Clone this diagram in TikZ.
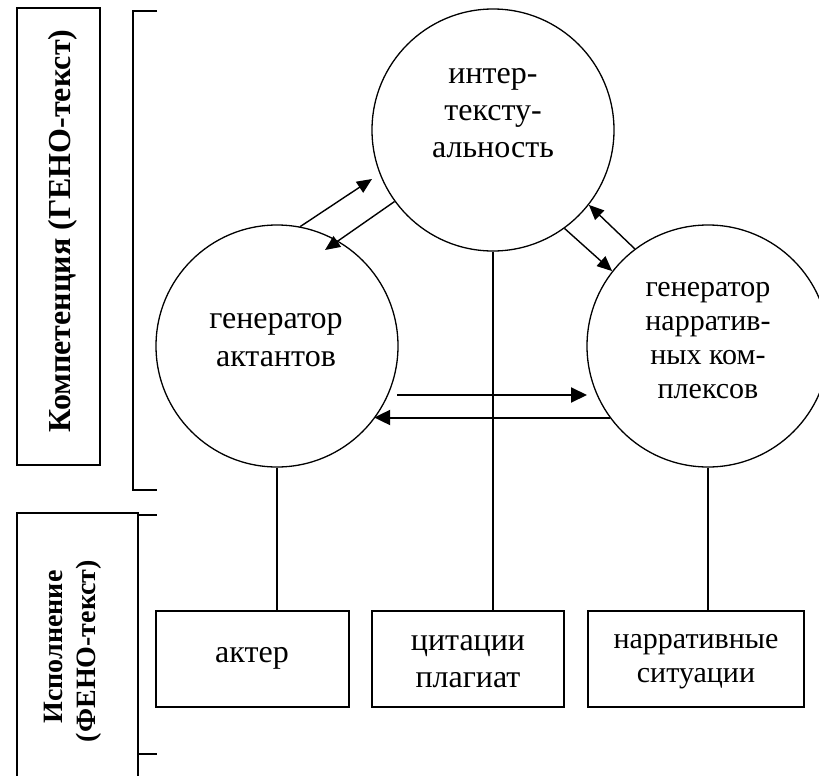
\documentclass[tikz,border=0pt]{standalone}
\usepackage{fontspec}
\setmainfont{Liberation Serif}
\usetikzlibrary{arrows.meta}
\begin{document}
\begin{tikzpicture}[x=1pt,y=-1pt,
  circ/.style={circle,draw,line width=1.3pt,minimum size=242pt,inner sep=0pt},
  boxn/.style={draw,line width=1.6pt,minimum height=96pt,inner sep=0pt},
  txt/.style={anchor=base,inner sep=0pt,font=\fontsize{32}{37}\selectfont},
  txts/.style={anchor=base,inner sep=0pt,font=\fontsize{30}{34}\selectfont},
  lbl/.style={anchor=base,inner sep=0pt,rotate=90,font=\bfseries\fontsize{32}{37}\selectfont},
  lbls/.style={anchor=base,inner sep=0pt,rotate=90,font=\bfseries\fontsize{28}{33}\selectfont},
  frame/.style={line width=1.4pt},
  link/.style={line width=1.3pt},
  darr/.style={line width=1.4pt,-{Triangle[length=15pt,width=13pt]}},
  harr/.style={line width=2pt,-{Triangle[length=16pt,width=15pt]}}]
\useasboundingbox (0,0) rectangle (819,776);

% circles
\node[circ] (T) at (493,130) {};
\node[circ] (L) at (277,346) {};
\node[circ] (R) at (708,346) {};

% boxes
\node[boxn,minimum width=193pt] (B1) at (252.5,659) {};
\node[boxn,minimum width=192pt] (B2) at (468,659) {};
\node[boxn,minimum width=216pt] (B3) at (696,659) {};

% texts
\node[txt] (t1) at (493,83) {интер-};
\node[txt] (t2) at (493,120) {тексту-};
\node[txt] (t3) at (493,157) {альность};
\node[txt] (l1) at (276,328) {генератор};
\node[txt] (l2) at (276,366) {актантов};
\node[txts] (r1) at (708,296) {генератор};
\node[txts] (r2) at (708,330) {нарратив-};
\node[txts] (r3) at (708,364) {ных ком-};
\node[txts] (r4) at (708,398) {плексов};
\node[txt] (b1) at (252,662) {актер};
\node[txt] (b2a) at (468,650) {цитации};
\node[txt] (b2b) at (468,687) {плагиат};
\node[txts] (b3a) at (696,648) {нарративные};
\node[txts] (b3b) at (696,682) {ситуации};

% side labels
\node[draw,frame,minimum width=83pt,minimum height=457pt,inner sep=0pt] (CB) at (58.5,236.5) {};
\node[lbl] (comp) at (70,231) {Компетенция (ГЕНО-текст)};
\node[lbls] (isp1) at (62,647) {Исполнение};
\node[lbls] (isp2) at (95,651) {(ФЕНО-текст)};

% brackets
\coordinate (k1) at (157,11);
\coordinate (k2) at (133,11);
\coordinate (k3) at (133,490);
\coordinate (k4) at (157,490);
\draw[frame] (k1) -- (k2) -- (k3) -- (k4);
\coordinate (p1) at (17,790);
\coordinate (p2) at (17,513);
\coordinate (p3) at (138,513);
\coordinate (p4) at (138,790);
\draw[frame] (p1) -- (p2) -- (p3) -- (p4);
\coordinate (q1) at (138,515);
\coordinate (q2) at (157,515);
\coordinate (q3) at (138,754);
\coordinate (q4) at (157,754);
\draw[frame] (q1) -- (q2);
\draw[frame] (q3) -- (q4);

% vertical links
\draw[link] (L.south) -- (L.south |- B1.north);
\draw[link] (T.south) -- (T.south |- B2.north);
\draw[link] (R.south) -- (R.south |- B3.north);

% arrows
\coordinate (a1e) at (372,179);
\draw[darr] (L.79) -- (a1e);
\coordinate (a2e) at (325,250);
\draw[darr] (T.216.7) -- (a2e);
\draw[darr] (T.306.6) -- (R.142.5);
\draw[darr] (R.127.2) -- (T.322.5);
\coordinate (a5s) at (397,395);
\coordinate (a5e) at (587,395);
\draw[harr] (a5s) -- (a5e);
\draw[harr] (R.216.9) -- (L.323.7 |- R.216.9);
\end{tikzpicture}
\end{document}
